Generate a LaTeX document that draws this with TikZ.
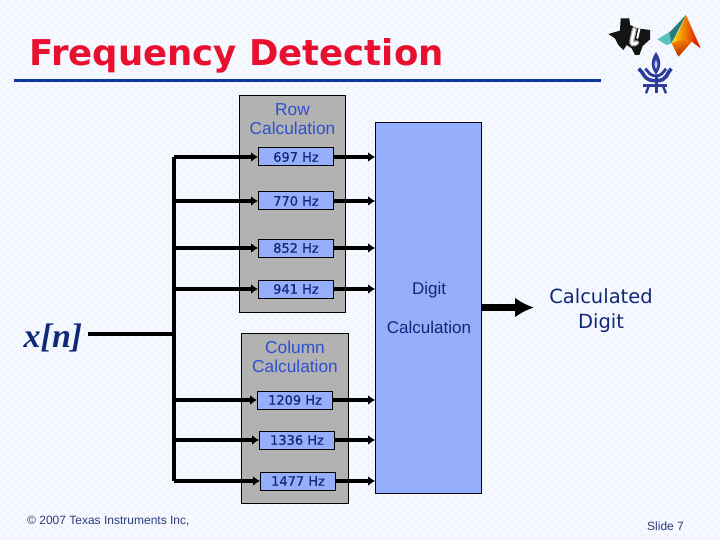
\documentclass[tikz,border=0pt]{standalone}
\usepackage{fontspec}
\setmainfont{Liberation Sans}
\newfontfamily\dvfont{DejaVu Sans}
\newfontfamily\dvfat[FakeBold=0.6]{DejaVu Sans}
\newfontfamily\tmfont{Liberation Serif}
\usetikzlibrary{arrows.meta,patterns,calc}
\pgfdeclarepatternformonly{bgdots}{\pgfqpoint{0pt}{0pt}}{\pgfqpoint{8pt}{8pt}}{\pgfqpoint{8pt}{8pt}}{%
  \pgfpathrectangle{\pgfqpoint{1pt}{1pt}}{\pgfqpoint{1.3pt}{1.3pt}}%
  \pgfpathrectangle{\pgfqpoint{5pt}{5pt}}{\pgfqpoint{1.3pt}{1.3pt}}%
  \pgfusepath{fill}}
\definecolor{bgc}{HTML}{F6F8FF}
\definecolor{dotc}{HTML}{E2E5F2}
\definecolor{panelc}{HTML}{B2B2B2}
\definecolor{bluec}{HTML}{96AFFC}
\definecolor{titlec}{HTML}{E8102E}
\definecolor{rulec}{HTML}{1038A0}
\definecolor{headc}{HTML}{2E50D0}
\definecolor{navyc}{HTML}{102878}
\definecolor{taublue}{HTML}{2C3C9C}
\definecolor{tealm}{HTML}{58C0C0}
\definecolor{tealdk}{HTML}{2C7C78}
\tikzset{
  panel/.style={draw=black,line width=0.9pt,fill=panelc},
  digitbox/.style={draw=black,line width=0.9pt,fill=bluec},
  freq/.style={draw=black,line width=1pt,fill=bluec,minimum width=75pt,minimum height=18pt,inner sep=0pt,text=navyc,font=\dvfat\fontsize{13}{15}\selectfont},
  headtxt/.style={text=headc,align=center,font=\fontsize{17.3}{19}\selectfont,inner sep=0pt},
  navytxt/.style={text=navyc,align=center,inner sep=0pt},
  wire/.style={line width=3.4pt,black},
  arrowwire/.style={wire,-{Latex[length=7pt,width=10pt]}},
}
\begin{document}
\begin{tikzpicture}[x=1pt,y=-1pt]
\useasboundingbox (0,0) rectangle (720,540);
\fill[bgc] (0,0) rectangle (720,540);
\fill[pattern=bgdots,pattern color=dotc] (0,0) rectangle (720,540);

% title
\node[anchor=base west,inner sep=0pt,text=titlec,font=\dvfont\bfseries\fontsize{35.5}{40}\selectfont] (title) at (29,66) {Frequency Detection};
\coordinate (ruleL) at (14,81);
\coordinate (ruleR) at (601,81);
\draw[rulec,line width=3pt] (ruleL) -- (ruleR);

% panels
\node[panel,minimum width=106pt,minimum height=217pt,inner sep=0pt] (rowp) at (292.5,204) {};
\node[panel,minimum width=107pt,minimum height=170pt,inner sep=0pt] (colp) at (295,418) {};
\node[digitbox,minimum width=106pt,minimum height=371pt,inner sep=0pt] (digit) at (428.5,307.5) {};

\node[headtxt] (rowt) at (292.5,119) {Row\\[0.5pt]Calculation};
\node[headtxt] (colt) at (295,357) {Column\\[0.5pt]Calculation};

\coordinate (xend) at (88,334);
\coordinate (tr0) at (174,157);
\coordinate (trx) at (174,334);
\coordinate (tr7) at (174,481);

% filter boxes
\node[freq] (f1) at (296,157) {697 Hz};
\node[freq] (f2) at (296,201) {770 Hz};
\node[freq] (f3) at (296,248) {852 Hz};
\node[freq] (f4) at (296,289) {941 Hz};
\node[freq] (f5) at (295,400) {1209 Hz};
\node[freq] (f6) at (297,440) {1336 Hz};
\node[freq] (f7) at (298,481) {1477 Hz};

% digit box text
\node[navytxt,font=\fontsize{17}{19}\selectfont] (d1) at (429,290) {Digit};
\node[navytxt,font=\fontsize{17}{19}\selectfont] (d2) at (429,327) {Calculation};

% input
\node[anchor=base,inner sep=0pt,text=navyc,font=\tmfont\bfseries\itshape\fontsize{34}{36}\selectfont] (xn) at (53,347) {x[n]};
\draw[wire] (xend) -- (trx);
\draw[wire,line cap=square] (tr0) -- (tr7);

% wires into and out of filters
\foreach \n in {1,...,7}{
  \draw[arrowwire] (f\n.west -| tr0) -- (f\n.west);
  \draw[arrowwire] (f\n.east) -- (f\n.east -| digit.west);
}

% output
\coordinate (outend) at (534,307.5);
\draw[line width=6.5pt,-{Latex[length=19pt,width=20pt]}] (digit.east |- outend) -- (outend);
\node[navytxt,font=\dvfont\fontsize{19.5}{25}\selectfont] (calc) at (601,311) {Calculated\\Digit};

% footer
\node[anchor=base west,inner sep=0pt,text=navyc!75!gray,font=\fontsize{12}{14}\selectfont] (foot) at (27,524) {© 2007 Texas Instruments Inc,};
\node[anchor=base west,inner sep=0pt,text=navyc!75!gray,font=\fontsize{12}{14}\selectfont] (slide) at (647,530) {Slide 7};

% logos (coordinates from the 3x crop at 600,10)
\begin{scope}[shift={(600,10)},x=0.3333pt,y=-0.3333pt]
  % Texas
  \fill[black!92] (25,72) -- (60,62) -- (62,25) -- (88,25) -- (90,45) -- (110,55) -- (150,60) -- (150,88) -- (128,108) -- (118,135) -- (105,135) -- (95,115) -- (80,105) -- (70,120) -- (55,105) -- (45,85) -- cycle;
  \draw[gray!70,line width=5pt,line cap=round] (103,58) -- (96,90) .. controls (93,102) and (100,106) .. (110,98);
  \draw[white,line width=2.6pt,line cap=round] (103,58) -- (96,90) .. controls (93,102) and (100,106) .. (110,98);
  \draw[white,line width=2pt,line cap=round] (118,58) -- (112,84);
  \fill[white] (107,39) circle (2.2pt);
  % Matlab
  \fill[tealm] (172,88) -- (215,62) -- (258,15) -- (232,65) -- (215,100) -- (200,105) -- cycle;
  \fill[tealdk] (208,68) -- (258,15) -- (226,78) -- (214,98) -- cycle;
  \shade[left color=yellow!80!orange,right color=red!85!black] (258,15) -- (302,115) -- (275,95) -- (235,140) -- (215,100) -- (238,60) -- cycle;
  \shade[top color=orange,bottom color=red!60!black,opacity=0.75] (252,85) -- (275,95) -- (235,140) -- (215,100) -- cycle;
  % TAU
  \fill[taublue] (168,126) .. controls (154,148) and (148,166) .. (168,194) .. controls (188,166) and (182,148) .. (168,126) -- cycle;
  \fill[bluec!60!white] (168,150) .. controls (162,162) and (162,170) .. (168,178) .. controls (174,170) and (174,162) .. (168,150) -- cycle;
  \draw[taublue,line width=3.6pt] (116,176) .. controls (132,186) and (130,214) .. (168,212) .. controls (204,214) and (200,186) .. (214,176);
  \draw[taublue,line width=2.8pt] (136,176) .. controls (146,186) and (150,198) .. (168,198) .. controls (184,198) and (190,186) .. (198,176);
  \draw[taublue,line width=2.8pt] (130,226) -- (202,226);
  \draw[taublue,line width=2.4pt] (147,226) -- (138,250);
  \draw[taublue,line width=3pt] (168,200) -- (168,250);
  \draw[taublue,line width=2.4pt] (188,226) -- (198,250);
\end{scope}
\end{tikzpicture}
\end{document}
